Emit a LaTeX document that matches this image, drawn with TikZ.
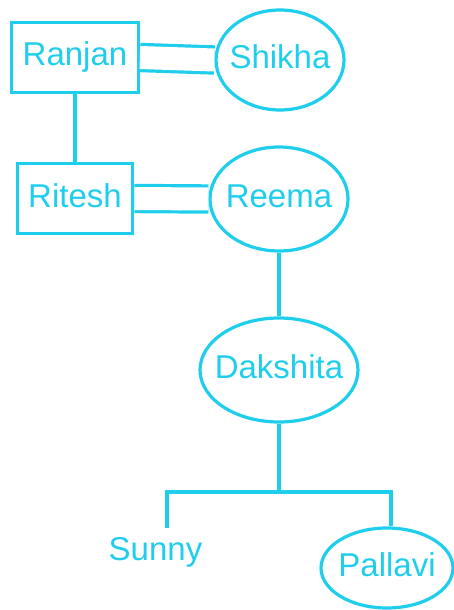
\documentclass[tikz,border=0pt]{standalone}
\usepackage{fontspec}
\setmainfont{Liberation Sans}
\usepackage{xcolor}
\definecolor{ftcyan}{RGB}{30,206,236}
\usetikzlibrary{shapes.geometric}

\begin{document}
\begin{tikzpicture}[x=1pt, y=-1pt,
    personbox/.style={rectangle, draw=ftcyan, line width=3.2pt, text=ftcyan,
      font=\fontsize{33}{38}\selectfont, text height=24pt, text depth=7pt,
      minimum height=70pt, inner xsep=11pt},
    personoval/.style={ellipse, draw=ftcyan, line width=3.2pt, text=ftcyan,
      font=\fontsize{33}{38}\selectfont, text height=24pt, text depth=7pt, inner sep=0pt,
      execute at begin node={\hbox to 0pt\bgroup\hss},
      execute at end node={\hss\egroup}},
    link/.style={draw=ftcyan, line width=3.2pt},
    marriage/.style={link, double=white, double distance=23pt}
  ]
    \useasboundingbox (0,0) rectangle (453,610);

    % Generation 1
    \node[personbox] (ranjan) at (75, 57.5) {Ranjan};
    \node[personoval, minimum width=128pt, minimum height=100pt] (shikha) at (280, 60) {Shikha};

    % Generation 2
    \node[personbox] (ritesh) at (75, 198.5) {Ritesh};
    \node[personoval, minimum width=138pt, minimum height=104pt] (reema) at (279, 199) {Reema};

    % Generation 3
    \node[personoval, minimum width=158pt, minimum height=104pt] (dakshita) at (279, 370) {Dakshita};

    % Generation 4
    \node[text=ftcyan, font=\fontsize{33}{38}\selectfont, text height=24pt, text depth=7pt,
          inner sep=8pt] (sunny) at (155.5, 551.5) {Sunny};
    \node[personoval, minimum width=132pt, minimum height=80pt] (pallavi) at (387, 568) {Pallavi};
    \coordinate (fork) at (279, 492);

    % Couples
    \draw[marriage] (ranjan.east) -- (shikha.west);
    \draw[marriage] (ritesh.east) -- (reema.west);

    % Descent
    \draw[link] (ranjan) -- (ritesh);
    \draw[link] (reema) -- (dakshita);
    \draw[link] (dakshita) -- (fork);
    \draw[link] ([xshift=11.5pt]sunny.north) |- (fork) -| ([xshift=4pt]pallavi.north);
  \end{tikzpicture}
\end{document}
